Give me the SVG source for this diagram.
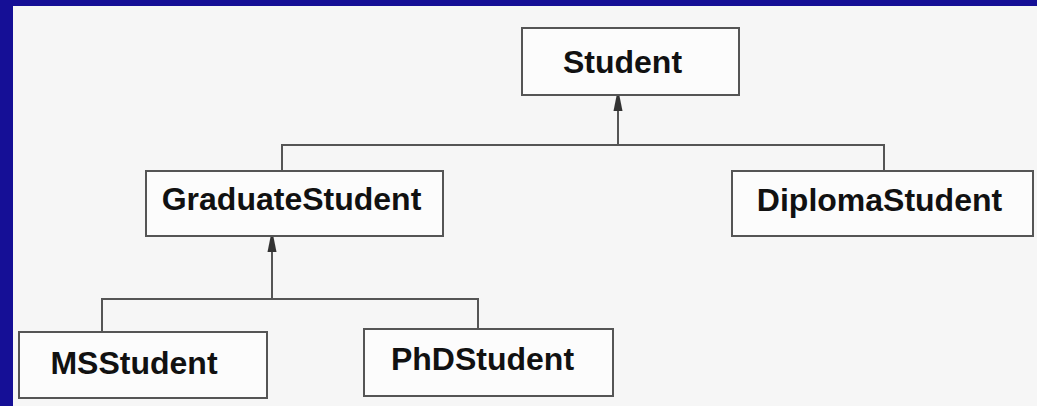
<svg xmlns="http://www.w3.org/2000/svg" width="1037" height="406" viewBox="0 0 1037 406">
  <style>
    .box { fill: #fcfcfc; stroke: #555555; stroke-width: 2; }
    .label { font-family: "Liberation Sans", Arial, sans-serif; font-weight: bold; font-size: 32px; fill: #111111; text-anchor: middle; }
    .wire { fill: none; stroke: #555555; stroke-width: 2; }
    .head { fill: #333333; stroke: none; }
  </style>

  <!-- slide frame and canvas -->
  <rect x="0" y="0" width="1037" height="406" fill="#150f96"/>
  <rect x="13" y="6" width="1024" height="400" fill="#f6f6f6"/>

  <!-- inheritance connectors -->
  <g id="connectors">
    <path class="wire" d="M618 145 V104 M282 171 V145 H884 V171"/>
    <path class="head" d="M616.5 96 H619.5 L622.5 111 H613.5 Z"/>
    <path class="wire" d="M272 299 V245 M102 332 V299 H478 V329"/>
    <path class="head" d="M270.5 237 H273.5 L276.5 252 H267.5 Z"/>
  </g>

  <g id="student">
    <rect class="box" x="522" y="28" width="217" height="67"/>
    <text class="label" x="622.5" y="73">Student</text>
  </g>

  <g id="graduate-student">
    <rect class="box" x="146" y="171" width="297" height="65"/>
    <text class="label" x="291.5" y="210">GraduateStudent</text>
  </g>

  <g id="diploma-student">
    <rect class="box" x="732" y="171" width="301" height="65"/>
    <text class="label" x="879.5" y="211">DiplomaStudent</text>
  </g>

  <g id="ms-student">
    <rect class="box" x="19" y="332" width="248" height="66"/>
    <text class="label" x="134" y="374">MSStudent</text>
  </g>

  <g id="phd-student">
    <rect class="box" x="364" y="329" width="249" height="67"/>
    <text class="label" x="482.5" y="370">PhDStudent</text>
  </g>
</svg>
